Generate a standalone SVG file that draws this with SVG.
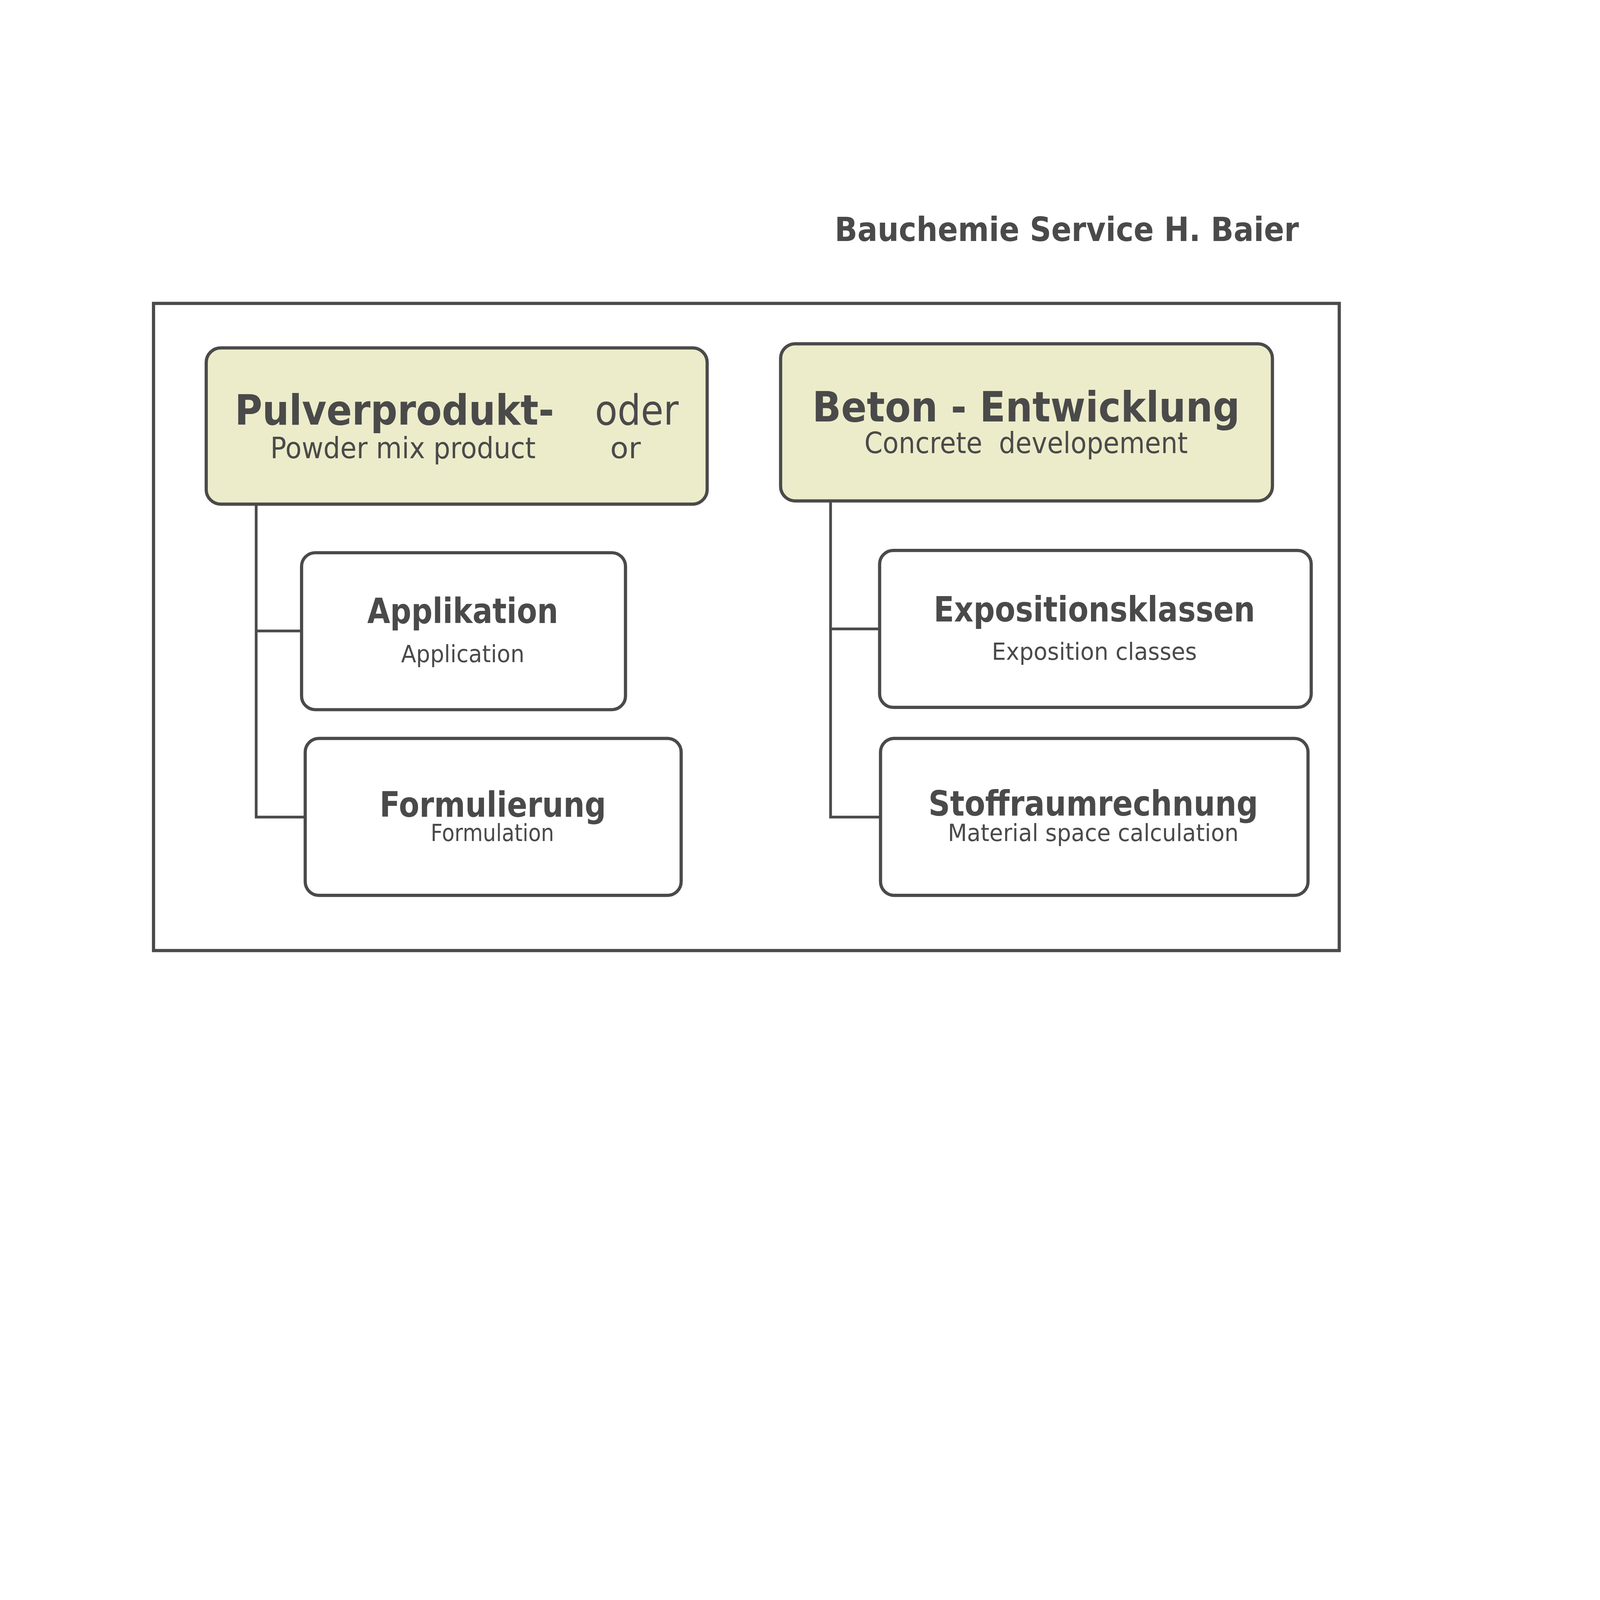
<svg xmlns="http://www.w3.org/2000/svg" width="7014" height="5100" viewBox="0 0 7014 5100" preserveAspectRatio="xMinYMin meet" style="width:100vw;height:100vh">
<style>
.box{fill:#ffffff;stroke:#4a4a4a;stroke-width:14}
.hbox{fill:#ececcb;stroke:#4a4a4a;stroke-width:14}
.conn{fill:none;stroke:#4a4a4a;stroke-width:12}
text{font-family:"DejaVu Sans","Liberation Sans",sans-serif;fill:#4a4a4a}
.b{font-weight:bold}
.big{font-size:184px}
.sub1{font-size:128px}
.mid{font-size:152px}
.sub2{font-size:104px}
</style>
<rect x="0" y="0" width="7014" height="5100" fill="#ffffff"/>
<g id="title">
<text class="b" x="3659" y="1056" font-size="146" textLength="2035" lengthAdjust="spacingAndGlyphs">Bauchemie Service H. Baier</text>
</g>
<g id="frame">
<rect x="673" y="1330" width="5198" height="2837" fill="none" stroke="#4a4a4a" stroke-width="14"/>
</g>
<g id="connectors">
<path class="conn" d="M1123 2210 V3582 H1338 M1123 2766 H1324"/>
<path class="conn" d="M3641 2196 V3582 H3860 M3641 2757 H3856"/>
</g>
<g id="node-pulver">
<rect class="hbox" x="904" y="1525" width="2196" height="685" rx="64"/>
<text class="b big" x="1029" y="1861" textLength="1400" lengthAdjust="spacingAndGlyphs">Pulverprodukt-</text>
<text class="big" x="2608" y="1861" textLength="367" lengthAdjust="spacingAndGlyphs">oder</text>
<text class="sub1" x="1185" y="2008" textLength="1163" lengthAdjust="spacingAndGlyphs">Powder mix product</text>
<text class="sub1" x="2675" y="2008" textLength="134" lengthAdjust="spacingAndGlyphs">or</text>
</g>
<g id="node-beton">
<rect class="hbox" x="3422" y="1507" width="2156" height="689" rx="64"/>
<text class="b big" x="3561" y="1847" textLength="1874" lengthAdjust="spacingAndGlyphs">Beton - Entwicklung</text>
<text class="sub1" x="3789" y="1986" textLength="1418" lengthAdjust="spacingAndGlyphs" xml:space="preserve">Concrete  developement</text>
</g>
<g id="node-applikation">
<rect class="box" x="1322" y="2423" width="1420" height="688" rx="60"/>
<text class="b mid" x="1610" y="2732" textLength="837" lengthAdjust="spacingAndGlyphs">Applikation</text>
<text class="sub2" x="1758" y="2902" textLength="541" lengthAdjust="spacingAndGlyphs">Application</text>
</g>
<g id="node-formulierung">
<rect class="box" x="1338" y="3237" width="1648" height="688" rx="60"/>
<text class="b mid" x="1664" y="3580" textLength="993" lengthAdjust="spacingAndGlyphs">Formulierung</text>
<text class="sub2" x="1888" y="3687" textLength="541" lengthAdjust="spacingAndGlyphs">Formulation</text>
</g>
<g id="node-exposition">
<rect class="box" x="3856" y="2413" width="1892" height="688" rx="60"/>
<text class="b mid" x="4093" y="2724" textLength="1409" lengthAdjust="spacingAndGlyphs">Expositionsklassen</text>
<text class="sub2" x="4348" y="2893" textLength="899" lengthAdjust="spacingAndGlyphs">Exposition classes</text>
</g>
<g id="node-stoffraum">
<rect class="box" x="3860" y="3237" width="1874" height="688" rx="60"/>
<text class="b mid" x="4070" y="3575" textLength="1445" lengthAdjust="spacingAndGlyphs">Stoffraumrechnung</text>
<text class="sub2" x="4155" y="3687" textLength="1275" lengthAdjust="spacingAndGlyphs">Material space calculation</text>
</g>
</svg>
